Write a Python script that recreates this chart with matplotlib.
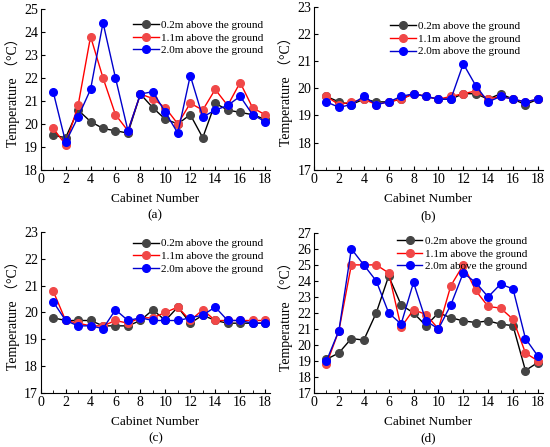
import matplotlib
matplotlib.use('Agg')
import matplotlib.pyplot as plt
import numpy as np
from matplotlib.ticker import MultipleLocator

plt.rcParams['font.family'] = ['Liberation Serif', 'Noto Sans CJK SC']
plt.rcParams['mathtext.fontset'] = 'stix'

cabinets = np.arange(1, 19)
legends = ['0.2m above the ground', '1.1m above the ground', '2.0m above the ground']

a_02 = [19.5, 19.4, 20.6, 20.1, 19.8, 19.7, 19.6, 21.3, 20.7, 20.2, 20.0, 20.4, 19.4, 20.9, 20.6, 20.5, 20.4, 20.2]
a_11 = [19.8, 19.1, 20.8, 23.8, 22.0, 20.4, 19.7, 21.3, 21.1, 20.7, 20.0, 20.9, 20.6, 21.5, 20.8, 21.8, 20.7, 20.4]
a_20 = [21.4, 19.2, 20.3, 21.5, 24.4, 22.0, 19.7, 21.3, 21.4, 20.5, 19.6, 22.1, 20.3, 20.6, 20.8, 21.2, 20.4, 20.1]

b_02 = [19.7, 19.5, 19.4, 19.6, 19.5, 19.5, 19.6, 19.8, 19.7, 19.6, 19.6, 19.8, 19.8, 19.6, 19.8, 19.6, 19.4, 19.6]
b_11 = [19.7, 19.4, 19.5, 19.6, 19.4, 19.5, 19.6, 19.8, 19.7, 19.6, 19.7, 19.8, 19.9, 19.6, 19.7, 19.6, 19.5, 19.6]
b_20 = [19.5, 19.3, 19.4, 19.7, 19.4, 19.5, 19.7, 19.8, 19.7, 19.6, 19.6, 20.9, 20.1, 19.5, 19.7, 19.6, 19.5, 19.6]

c_02 = [19.8, 19.7, 19.7, 19.7, 19.5, 19.5, 19.5, 19.7, 20.1, 19.7, 20.2, 19.6, 19.9, 19.7, 19.6, 19.6, 19.6, 19.6]
c_11 = [20.8, 19.7, 19.6, 19.5, 19.5, 19.7, 19.6, 19.8, 19.8, 20.0, 20.2, 19.7, 20.1, 19.7, 19.7, 19.7, 19.7, 19.7]
c_20 = [20.4, 19.7, 19.5, 19.5, 19.4, 20.1, 19.7, 19.8, 19.7, 19.7, 19.7, 19.8, 19.9, 20.2, 19.7, 19.7, 19.6, 19.6]

d_02 = [19.1, 19.5, 20.4, 20.3, 22.0, 24.3, 22.5, 22.0, 21.2, 22.0, 21.7, 21.5, 21.4, 21.5, 21.3, 21.2, 18.4, 18.9]
d_11 = [18.8, 20.9, 25.0, 25.0, 25.0, 24.5, 21.1, 22.2, 21.9, 21.0, 23.7, 25.0, 23.4, 22.4, 22.3, 21.6, 19.5, 19.0]
d_20 = [19.0, 20.9, 26.0, 25.0, 24.0, 22.0, 21.3, 23.9, 21.5, 21.0, 22.5, 24.5, 23.9, 23.0, 23.8, 23.5, 20.4, 19.3]

line_colors = ['#000000', '#ff0000', '#0000cc']
face_colors = ['#444444', '#f04848', '#0000ff']

# panel: (data, ylim, axes rect, legend anchor, label)
panels = [
    ((a_02, a_11, a_20), (18, 25), [0.074, 0.620, 0.417, 0.360], (1.0, 0.97), '(a)'),
    ((b_02, b_11, b_20), (17, 23), [0.571, 0.620, 0.416, 0.365], (0.93, 0.95), '(b)'),
    ((c_02, c_11, c_20), (17, 23), [0.074, 0.121, 0.417, 0.360], (1.0, 1.0), '(c)'),
    ((d_02, d_11, d_20), (17, 27), [0.571, 0.121, 0.416, 0.358], (0.96, 1.02), '(d)'),
]

fig = plt.figure(figsize=(5.5, 4.47), dpi=100)
for series, ylim, rect, anchor, tag in panels:
    ax = fig.add_axes(rect)
    for vals, lc, fc, lab in zip(series, line_colors, face_colors, legends):
        ax.plot(cabinets, vals, '-', color=lc, lw=1.0, marker='o', ms=5.5,
                mfc=fc, mec=fc, label=lab)
    ax.set_xlim(0, 18.4)
    ax.set_ylim(*ylim)
    ax.xaxis.set_major_locator(MultipleLocator(2))
    ax.xaxis.set_minor_locator(MultipleLocator(1))
    ax.yaxis.set_major_locator(MultipleLocator(1))
    ax.tick_params(which='both', direction='in', labelsize=10, pad=2)
    ax.tick_params(which='major', length=3)
    ax.tick_params(which='minor', length=2)
    ax.spines['top'].set_visible(False)
    ax.spines['right'].set_visible(False)
    ax.set_xlabel('Cabinet Number', fontsize=9.5, labelpad=5)
    ax.set_ylabel('Temperature （°C）', fontsize=10, labelpad=3)
    ax.text(0.5, -0.285, tag, transform=ax.transAxes, ha='center', va='center', fontsize=9.5)
    ax.legend(loc='upper right', bbox_to_anchor=anchor, frameon=False, fontsize=8,
              handlelength=2.3, handletextpad=0.2, labelspacing=0.25, borderaxespad=0.2)

fig.savefig('out.png', dpi=100)
